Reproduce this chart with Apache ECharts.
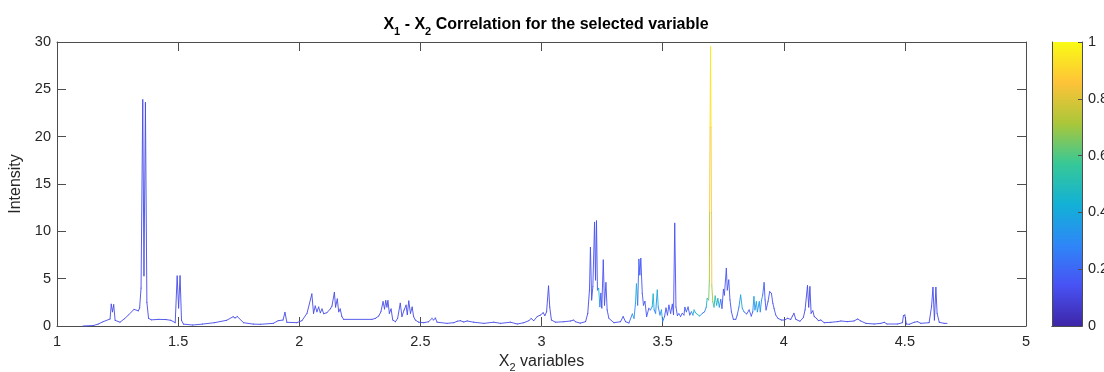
<!DOCTYPE html>
<html>
<head>
<meta charset="utf-8">
<script src="https://cdn.jsdelivr.net/npm/echarts@6/dist/echarts.min.js"></script>
<style>
html,body{margin:0;padding:0;background:#fff;}
#chart{width:1104px;height:372px;}
</style>
</head>
<body>
<div id="chart"></div>
<script>
// ---- data: [chemical shift (X2), intensity, correlation] ----
const spectrumA = [
  [1.107,0.00,0.12],[1.15,0.05,0.12],[1.17,0.2,0.12],[1.19,0.45,0.12],[1.219,0.74,0.12],
  [1.224,2.3,0.12],[1.229,1.5,0.12],[1.234,2.25,0.12],[1.24,0.6,0.12],[1.26,0.4,0.12],
  [1.28,0.8,0.12],[1.295,1.16,0.12],[1.318,1.76,0.12],[1.336,1.6,0.12],[1.341,1.9,0.12],
  [1.347,4.0,0.12],[1.354,23.9,0.12],[1.359,5.3,0.12],[1.365,23.6,0.12],[1.371,2.5,0.12],
  [1.378,0.8,0.12],[1.39,0.65,0.12],[1.42,0.7,0.12],[1.45,0.68,0.12],[1.47,0.6,0.12],
  [1.488,0.35,0.12],[1.496,5.28,0.12],[1.502,1.9,0.12],[1.508,5.3,0.12],[1.514,0.6,0.12],
  [1.522,0.2,0.12],[1.56,0.1,0.12],[1.60,0.2,0.12],[1.65,0.35,0.12],[1.70,0.6,0.12],
  [1.727,0.98,0.12],[1.735,0.85,0.12],[1.744,1.0,0.12],[1.77,0.35,0.12],[1.81,0.2,0.12],
  [1.839,0.18,0.12],[1.893,0.28,0.12],[1.913,0.56,0.12],[1.933,0.63,0.12],[1.941,1.44,0.12],
  [1.949,0.39,0.12],[1.99,0.35,0.12]
];
const spectrumB = [
  [2.011,0.56,0.12],[2.032,1.34,0.12],[2.052,3.38,0.12],[2.059,1.34,0.12],[2.066,2.11,0.12],
  [2.073,1.5,0.12],[2.08,2.0,0.12],[2.087,1.4,0.12],[2.094,1.8,0.12],[2.101,1.3,0.12],
  [2.114,1.4,0.12],[2.128,1.8,0.12],[2.135,2.1,0.12],[2.145,3.55,0.12],[2.150,2.0,0.12],
  [2.157,2.85,0.12],[2.163,1.5,0.12],[2.169,1.8,0.12],[2.176,0.99,0.12],[2.183,0.7,0.12],
  [2.30,0.7,0.12],[2.314,0.8,0.12],[2.328,1.05,0.12],[2.337,1.5,0.12],[2.346,2.57,0.12],
  [2.352,1.8,0.12],[2.357,2.68,0.12],[2.362,2.0,0.12],[2.366,2.68,0.12],[2.372,1.34,0.12],
  [2.379,1.8,0.12],[2.386,0.63,0.12],[2.397,0.45,0.12],[2.406,0.8,0.12],[2.417,2.4,0.12],
  [2.424,1.0,0.12],[2.433,1.7,0.12],[2.441,2.2,0.12],[2.446,1.2,0.12],[2.452,2.64,0.12],
  [2.459,1.34,0.12],[2.466,2.0,0.12],[2.472,1.0,0.12],[2.479,0.63,0.12],[2.493,0.4,0.12],
  [2.514,0.35,0.12],[2.534,0.45,0.12],[2.548,0.8,0.12],[2.555,0.63,0.12],[2.562,0.85,0.12],
  [2.569,0.4,0.12],[2.61,0.28,0.12],[2.638,0.35,0.12],[2.652,0.5,0.12],[2.665,0.56,0.12],
  [2.679,0.42,0.12],[2.693,0.53,0.12],[2.72,0.4,0.12],[2.762,0.28,0.12],[2.803,0.4,0.12],
  [2.831,0.28,0.12],[2.872,0.4,0.12],[2.9,0.21,0.12],[2.927,0.35,0.12],[2.948,0.56,0.12],
  [2.957,0.8,0.12],[2.968,0.56,0.12],[2.982,0.99,0.12],[2.996,1.16,0.12]
];
const spectrumC = [
  [3.007,1.4,0.12],[3.014,1.1,0.12],[3.021,1.5,0.12],[3.029,4.22,0.12],[3.034,2.0,0.12],
  [3.041,0.63,0.12],[3.058,0.4,0.12],[3.092,0.45,0.12],[3.12,0.53,0.12],[3.133,0.63,0.12],
  [3.14,0.45,0.12],[3.16,0.3,0.12],[3.182,0.46,0.12],[3.191,1.34,0.12],[3.198,3.8,0.14],
  [3.202,8.3,0.14],[3.207,2.75,0.14],[3.212,4.15,0.14],[3.219,10.95,0.14],[3.223,4.86,0.14],
  [3.227,11.1,0.14],[3.231,3.8,0.3],[3.236,3.98,0.45],[3.241,2.04,0.2],[3.245,3.45,0.14],
  [3.249,1.9,0.14],[3.255,6.97,0.14],[3.26,2.2,0.14],[3.266,4.58,0.14],[3.271,1.7,0.14],
  [3.278,0.81,0.12],[3.299,0.35,0.12],[3.326,0.45,0.12],[3.337,0.99,0.12],[3.347,0.45,0.12],
  [3.361,0.32,0.2],[3.375,1.27,0.4],[3.382,0.81,0.3],[3.388,2.4,0.4],[3.392,4.44,0.45],
  [3.397,2.2,0.2],[3.402,7.04,0.15],[3.406,5.4,0.15],[3.41,7.14,0.15],[3.416,3.45,0.15],
  [3.421,2.2,0.15],[3.427,2.6,0.15],[3.434,0.99,0.15],[3.443,1.86,0.15],[3.45,1.7,0.3],
  [3.457,2.04,0.4],[3.461,3.38,0.45],[3.465,1.7,0.25],[3.471,1.34,0.3],[3.478,3.8,0.45],
  [3.482,2.0,0.25],[3.489,1.16,0.3],[3.495,1.7,0.4],[3.50,0.45,0.2],[3.508,1.0,0.15],
  [3.514,1.9,0.15],[3.52,1.16,0.15],[3.526,2.2,0.15],[3.533,1.34,0.15],[3.54,2.3,0.15],
  [3.545,1.2,0.14],[3.55,10.85,0.14],[3.555,2.0,0.14],[3.561,1.1,0.15],[3.567,1.3,0.2],
  [3.574,1.0,0.15],[3.581,1.34,0.15],[3.588,1.16,0.15],[3.592,1.97,0.15],[3.598,1.5,0.2],
  [3.605,2.0,0.15]
];
const spectrumD = [
  [3.612,1.16,0.2],[3.619,1.5,0.3],[3.625,1.16,0.4],[3.63,1.69,0.45],[3.636,1.4,0.5],
  [3.641,1.27,0.5],[3.653,1.05,0.3],[3.664,1.34,0.2],[3.673,1.5,0.3],[3.68,1.97,0.45],
  [3.684,2.92,0.6],[3.69,2.75,0.65],[3.693,4.86,0.72],[3.694,12,0.84],[3.696,21,0.9],
  [3.698,29.5,0.96],[3.700,21,0.9],[3.702,12,0.84],[3.703,4.33,0.72],[3.707,2.57,0.6],
  [3.712,2.0,0.45],[3.717,3.17,0.55],[3.723,2.2,0.4],[3.728,2.9,0.45],[3.734,2.0,0.3],
  [3.74,2.8,0.2],[3.745,1.86,0.15],[3.751,3.87,0.15],[3.755,3.27,0.15],[3.763,6.09,0.15],
  [3.767,3.8,0.15],[3.773,4.86,0.15],[3.778,2.75,0.15],[3.784,1.5,0.15],[3.792,0.7,0.15],
  [3.802,0.7,0.15],[3.808,1.16,0.2],[3.815,2.0,0.3],[3.822,3.27,0.4],[3.829,1.86,0.3],
  [3.836,1.5,0.2],[3.847,1.27,0.15],[3.857,1.7,0.15],[3.866,1.05,0.15],[3.872,1.5,0.3],
  [3.877,3.1,0.4],[3.881,1.7,0.3],[3.887,2.57,0.4],[3.891,1.5,0.3],[3.899,2.57,0.4],
  [3.903,1.5,0.3],[3.908,2.68,0.3],[3.913,3.27,0.2],[3.919,4.58,0.15],[3.923,2.75,0.15],
  [3.927,1.7,0.15],[3.935,2.57,0.15],[3.942,3.63,0.15],[3.949,3.45,0.15],[3.955,2.4,0.15],
  [3.96,1.86,0.15],[3.967,1.16,0.15],[3.976,0.81,0.12],[3.99,0.63,0.12],[4.004,0.63,0.12],
  [4.015,0.81,0.12],[4.029,0.7,0.12],[4.036,1.05,0.12],[4.042,1.34,0.12],[4.05,0.7,0.12],
  [4.067,0.5,0.12],[4.081,0.9,0.12],[4.088,1.7,0.12],[4.098,4.26,0.12],[4.103,2.0,0.12],
  [4.108,4.15,0.12],[4.113,1.34,0.12],[4.12,1.6,0.12],[4.126,0.99,0.12],[4.135,0.81,0.12],
  [4.143,0.56,0.12],[4.153,0.63,0.12],[4.167,0.35,0.12],[4.194,0.39,0.12],[4.222,0.46,0.12],
  [4.236,0.53,0.12],[4.263,0.46,0.12],[4.29,0.53,0.12],[4.305,0.74,0.12],[4.318,0.53,0.12],
  [4.339,0.28,0.12],[4.373,0.21,0.12],[4.401,0.28,0.12],[4.415,0.39,0.12],[4.426,0.21,0.12],
  [4.47,0.21,0.12],[4.49,0.35,0.12],[4.494,1.09,0.12],[4.5,1.16,0.12],[4.506,0.21,0.12],
  [4.518,0.18,0.12],[4.538,0.39,0.12],[4.552,0.46,0.12],[4.566,0.28,0.12],[4.6,0.35,0.12],
  [4.61,2.04,0.12],[4.616,4.08,0.12],[4.622,0.63,0.12],[4.628,4.08,0.12],[4.633,1.34,0.12],
  [4.642,0.39,0.12],[4.662,0.28,0.12],[4.674,0.28,0.12]
];
const spectrum = spectrumA.concat(spectrumB, spectrumC, spectrumD);

// parula colormap stops
const parula = ['#3e26a8','#4852f4','#2e87f7','#12b1d6','#37c897','#abc739','#fec338','#f9fb15'];
const colorbarTicks = [0, 0.2, 0.4, 0.6, 0.8, 1];
const xRange = [1, 5];
const yRange = [0, 30];

const FONT = '"Liberation Sans", Helvetica, Arial, sans-serif';
const TXT = '#262626';
const AX = '#4d4d4d';

const chart = echarts.init(document.getElementById('chart'), null, {renderer: 'canvas'});

const gradStops = parula.map((c, i) => ({offset: i / (parula.length - 1), color: c}));

const option = {
  backgroundColor: '#ffffff',
  animation: false,
  textStyle: {fontFamily: FONT},
  title: {
    text: '{b|X}{s|1}{b| - X}{s|2}{b| Correlation for the selected variable}',
    left: 541, top: 12, textAlign: 'center',
    textStyle: {
      fontFamily: FONT,
      rich: {
        b: {fontSize: 16, fontWeight: 'bold', color: '#000', fontFamily: FONT, lineHeight: 16, verticalAlign: 'top'},
        s: {fontSize: 11, fontWeight: 'bold', color: '#000', fontFamily: FONT, lineHeight: 11, padding: [9, 0, 0, 0], verticalAlign: 'top'}
      }
    }
  },
  grid: [
    {left: 57, top: 42, width: 969, height: 284, containLabel: false, outerBoundsMode: 'none'},
    {left: 1052, top: 42, width: 30, height: 284, containLabel: false, outerBoundsMode: 'none'}
  ],
  xAxis: [
    {
      gridIndex: 0, type: 'value', min: xRange[0], max: xRange[1], interval: 0.5, position: 'bottom',
      name: '{a|X}{s|2}{a| variables}', nameLocation: 'middle', nameGap: 21,
      nameTextStyle: {
        rich: {
          a: {fontSize: 16, color: TXT, fontFamily: FONT, lineHeight: 16, verticalAlign: 'top'},
          s: {fontSize: 11, color: TXT, fontFamily: FONT, lineHeight: 11, padding: [9, 0, 0, 0], verticalAlign: 'top'}
        }
      },
      axisLine: {show: true, onZero: false, lineStyle: {color: AX, width: 1}},
      axisTick: {show: true, inside: true, length: 9, lineStyle: {color: AX}},
      axisLabel: {color: TXT, fontSize: 14.5, fontFamily: FONT, margin: 8},
      splitLine: {show: false}
    },
    {
      gridIndex: 0, type: 'value', min: xRange[0], max: xRange[1], interval: 0.5, position: 'top',
      axisLine: {show: true, onZero: false, lineStyle: {color: AX, width: 1}},
      axisTick: {show: true, inside: true, length: 9, lineStyle: {color: AX}},
      axisLabel: {show: false}, splitLine: {show: false}
    },
    {
      gridIndex: 1, type: 'category', data: ['colorbar'], position: 'bottom', z: 5,
      axisLine: {show: true, lineStyle: {color: AX}}, axisTick: {show: false}, axisLabel: {show: false}
    },
    {
      gridIndex: 1, type: 'category', data: ['colorbar'], position: 'top', z: 5,
      axisLine: {show: true, lineStyle: {color: AX}}, axisTick: {show: false}, axisLabel: {show: false}
    }
  ],
  yAxis: [
    {
      gridIndex: 0, type: 'value', min: yRange[0], max: yRange[1], interval: 5, position: 'left',
      name: 'Intensity', nameLocation: 'middle', nameGap: 30, nameRotate: 90,
      nameTextStyle: {fontSize: 16, color: TXT, fontFamily: FONT},
      axisLine: {show: true, onZero: false, lineStyle: {color: AX, width: 1}},
      axisTick: {show: true, inside: true, length: 9, lineStyle: {color: AX}},
      axisLabel: {color: TXT, fontSize: 14.5, fontFamily: FONT, margin: 6},
      splitLine: {show: false}
    },
    {
      gridIndex: 0, type: 'value', min: yRange[0], max: yRange[1], interval: 5, position: 'right',
      axisLine: {show: true, onZero: false, lineStyle: {color: AX, width: 1}},
      axisTick: {show: true, inside: true, length: 9, lineStyle: {color: AX}},
      axisLabel: {show: false}, splitLine: {show: false}
    },
    {
      gridIndex: 1, type: 'value', min: 0, max: 1, interval: 0.2, position: 'right', z: 5,
      axisLine: {show: true, lineStyle: {color: AX}},
      axisTick: {show: true, inside: true, length: 4, lineStyle: {color: AX}},
      axisLabel: {color: TXT, fontSize: 14.5, fontFamily: FONT, margin: 6,
        formatter: v => colorbarTicks.indexOf(Math.round(v * 10) / 10) >= 0 ? String(Math.round(v * 10) / 10) : ''},
      splitLine: {show: false}
    },
    {
      gridIndex: 1, type: 'value', min: 0, max: 1, interval: 0.2, position: 'left', z: 5,
      axisLine: {show: true, lineStyle: {color: AX}}, axisTick: {show: false}, axisLabel: {show: false},
      splitLine: {show: false}
    }
  ],
  visualMap: {
    show: false, type: 'continuous', min: 0, max: 1, dimension: 2, seriesIndex: 0,
    inRange: {color: parula}
  },
  series: [
    {
      type: 'custom',
      xAxisIndex: 0, yAxisIndex: 0,
      dimensions: ['x', 'y', 'c'],
      encode: {x: 0, y: 1},
      data: spectrum,
      renderItem: function (params, api) {
        const i = params.dataIndex;
        if (i >= spectrum.length - 1) return null;
        const p0 = api.coord([api.value(0), api.value(1)]);
        const nx = spectrum[i + 1];
        const p1 = api.coord([nx[0], nx[1]]);
        return {
          type: 'line',
          shape: {x1: p0[0], y1: p0[1], x2: p1[0], y2: p1[1]},
          style: {stroke: api.visual('color'), lineWidth: 1, lineCap: 'round', opacity: 0.9}
        };
      },
      z: 3
    },
    {
      type: 'bar',
      xAxisIndex: 2, yAxisIndex: 2,
      data: [1],
      barWidth: '100%',
      itemStyle: {color: new echarts.graphic.LinearGradient(0, 1, 0, 0, gradStops)},
      z: 1,
      silent: true
    }
  ]
};
chart.setOption(option);
</script>
</body>
</html>
